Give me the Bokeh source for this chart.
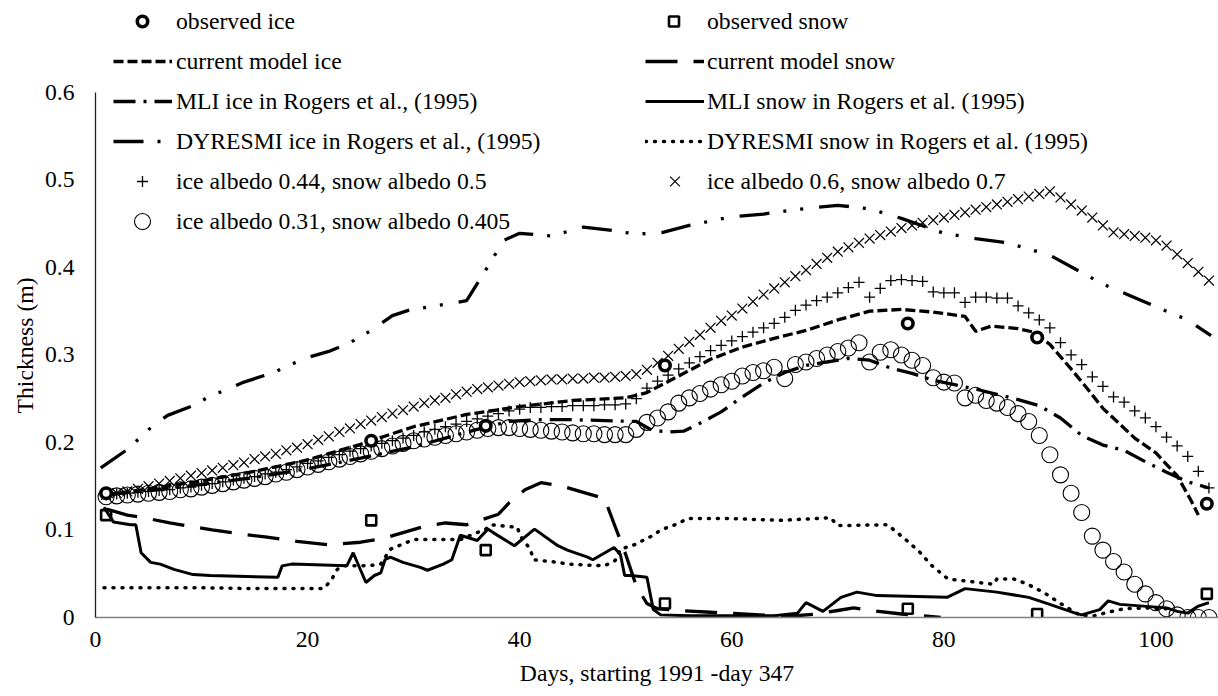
from bokeh.plotting import figure
from bokeh.models import Range1d, FixedTicker, Legend, LegendItem, Title
from bokeh.embed import file_html
from bokeh.resources import INLINE

FONT = "Liberation Serif"
FS = "23.7px"

# ---------------- data ----------------
days = list(range(1, 106))

albedo_060 = [
    .140, .142, .144, .147, .150, .153, .156, .159, .162, .165,
    .168, .171, .174, .177, .181, .184, .187, .191, .194, .198,
    .203, .207, .212, .216, .221, .225, .229, .233, .237, .241,
    .245, .248, .251, .255, .258, .261, .263, .265, .267, .269,
    .270, .271, .272, .272, .273, .273, .274, .274, .275, .276,
    .278, .283, .291, .299, .307, .315, .323, .331, .339, .345,
    .353, .361, .369, .376, .383, .390, .397, .404, .411, .418,
    .423, .428, .433, .437, .441, .445, .448, .451, .454, .457,
    .460, .463, .466, .469, .472, .475, .478, .481, .484, .487,
    .480, .472, .465, .457, .448, .440, .438, .436, .434, .431,
    .425, .415, .405, .395, .385]

albedo_044 = [
    .140, .141, .142, .143, .144, .145, .146, .148, .149, .151,
    .153, .155, .157, .159, .161, .164, .166, .169, .172, .176,
    .179, .183, .186, .190, .193, .196, .199, .202, .205, .208,
    .212, .215, .218, .221, .224, .227, .230, .233, .236, .238,
    .240, .240, .241, .241, .242, .242, .242, .243, .243, .244,
    .250, .262, .270, .277, .284, .291, .298, .305, .311, .316,
    .321, .326, .331, .336, .343, .351, .357, .362, .366, .371,
    .377, .383, .366, .376, .385, .386, .385, .384, .372, .371,
    .371, .360, .366, .366, .365, .365, .356, .348, .340, .331,
    .314, .300, .289, .275, .264, .252, .246, .236, .228, .218,
    .206, .196, .184, .167, .148]

albedo_031 = [
    .138, .139, .140, .141, .142, .143, .144, .146, .147, .149,
    .151, .153, .155, .157, .159, .161, .164, .166, .169, .172,
    .175, .178, .181, .184, .187, .190, .193, .196, .199, .202,
    .204, .206, .208, .210, .212, .214, .216, .217, .217, .216,
    .215, .214, .213, .212, .211, .210, .210, .209, .209, .209,
    .215, .223, .228, .235, .245, .251, .256, .261, .266, .270,
    .276, .280, .282, .286, .273, .289, .292, .296, .300, .304,
    .308, .314, .292, .303, .306, .300, .294, .288, .274, .269,
    .268, .251, .254, .248, .245, .240, .233, .224, .208, .186,
    .163, .142, .120, .093, .077, .064, .052, .038, .027, .017,
    .010, .003, .000, .000, .000]

obs_days = [1, 26, 36.8, 53.7, 76.6, 88.8, 104.8]
obs_ice = [0.142, 0.202, 0.219, 0.288, 0.336, 0.320, 0.130]
obs_snow = [0.117, 0.111, 0.077, 0.016, 0.010, 0.004, 0.027]

cm_ice_days = [1, 5, 10, 15, 20, 25, 30, 35, 40, 45, 50, 52, 55, 58, 61, 64, 67, 70, 73,
               76, 79, 82, 83, 84.5, 87, 88.5, 90, 92, 93.5, 95, 96.5, 98, 100, 102,
               103.3, 104]
cm_ice = [0.140, 0.147, 0.156, 0.167, 0.180, 0.198, 0.218, 0.232, 0.241, 0.248, 0.251,
          0.257, 0.276, 0.295, 0.309, 0.319, 0.328, 0.340, 0.350, 0.352, 0.349, 0.344,
          0.327, 0.333, 0.330, 0.326, 0.312, 0.284, 0.262, 0.239, 0.222, 0.205, 0.188,
          0.162, 0.134, 0.117]

cm_snow_days = [1, 3, 5, 7, 9, 11, 14, 16, 19, 22, 25, 27, 29, 31, 33, 35, 36.5, 38, 39,
                40.5, 42, 44, 46, 48, 49, 50, 51, 52, 53, 55, 58, 61, 64, 66, 68, 70,
                71.5, 73, 76, 78, 79.7]
cm_snow = [0.124, 0.117, 0.113, 0.108, 0.104, 0.100, 0.095, 0.092, 0.087, 0.083, 0.086,
           0.090, 0.097, 0.104, 0.108, 0.106, 0.112, 0.118, 0.131, 0.146, 0.154, 0.150,
           0.143, 0.136, 0.104, 0.072, 0.036, 0.016, 0.010, 0.008, 0.006, 0.004, 0.002,
           0.002, 0.004, 0.008, 0.011, 0.008, 0.004, 0.002, 0.000]

mli_ice_days = [1, 5, 10, 15, 20, 25, 30, 33, 36, 39, 42, 45, 48, 51, 52.5, 54, 55.5, 57,
                59, 61, 63, 65, 67, 69, 71, 73, 75, 77, 79, 81, 83, 85, 87, 89, 91, 93,
                95, 97, 99, 101, 103, 105]
mli_ice = [0.140, 0.145, 0.152, 0.160, 0.170, 0.182, 0.195, 0.205, 0.215, 0.224, 0.226,
           0.226, 0.225, 0.224, 0.214, 0.212, 0.213, 0.222, 0.235, 0.252, 0.268, 0.280,
           0.288, 0.292, 0.296, 0.294, 0.285, 0.279, 0.271, 0.266, 0.261, 0.255, 0.249,
           0.242, 0.228, 0.208, 0.197, 0.191, 0.178, 0.166, 0.155, 0.148]

mli_snow_days = [0.8, 1.7, 3.3, 3.8, 4.3, 5.2, 6.1, 7.4, 9.2, 10.8, 17.2, 17.6, 18.5,
                 23.7, 24.3, 25.5, 26.3, 26.9, 27.3, 27.8, 29, 30.7, 31.3, 32.8, 33.6,
                 34.4, 36, 37, 37.5, 39.5, 41.4, 43.6, 44.5, 46.4, 46.9, 48.9, 49.5,
                 49.9, 50.5, 52, 52.6, 53.3, 56, 60, 64, 66.2, 67, 68.6, 70.3, 71.8,
                 73.7, 80.3, 82, 85, 88, 89.5, 92.4, 93, 94.7, 95.5, 96.6, 101, 102,
                 103, 104, 105]
mli_snow = [0.126, 0.109, 0.106, 0.106, 0.074, 0.063, 0.061, 0.055, 0.049, 0.048, 0.046,
            0.059, 0.061, 0.059, 0.074, 0.040, 0.048, 0.051, 0.066, 0.069, 0.063, 0.057,
            0.054, 0.061, 0.066, 0.094, 0.088, 0.101, 0.097, 0.082, 0.101, 0.082, 0.077,
            0.069, 0.066, 0.080, 0.072, 0.048, 0.048, 0.046, 0.009, 0.003, 0.002, 0.002,
            0.002, 0.005, 0.017, 0.007, 0.023, 0.029, 0.025, 0.023, 0.033, 0.029, 0.023,
            0.017, 0.005, 0.003, 0.009, 0.019, 0.015, 0.011, 0.007, 0.005, 0.013, 0.017]

dy_ice_days = [0.5, 3, 5.4, 6.8, 9.2, 10.8, 12.5, 14, 16.8, 18.2, 20, 22, 24, 26, 28,
               29.5, 33, 35, 37, 38.5, 40, 43, 46, 48.3, 51, 53.5, 56, 60, 63, 66, 70,
               73, 76, 80, 83, 86, 90, 95, 100, 103, 105.2]
dy_ice = [0.171, 0.192, 0.219, 0.231, 0.242, 0.253, 0.261, 0.269, 0.280, 0.288, 0.297,
          0.304, 0.314, 0.328, 0.345, 0.351, 0.358, 0.362, 0.401, 0.431, 0.439, 0.436,
          0.446, 0.443, 0.438, 0.440, 0.448, 0.458, 0.461, 0.466, 0.471, 0.467, 0.456,
          0.439, 0.433, 0.428, 0.414, 0.381, 0.355, 0.340, 0.322]

dy_snow_days = [0.8, 5, 10, 15, 20, 21.5, 22.2, 22.8, 23.4, 24.3, 25.7, 26.9, 27.8, 29.4,
                30, 34.4, 36.8, 37.3, 39.8, 40, 41, 41.3, 43.6, 44.5, 48, 49, 49.5, 50.8,
                52.6, 53.3, 54.9, 55.8, 60, 64.6, 69.3, 70, 74.7, 75.3, 76.5, 77.7, 78.8,
                79.7, 80.4, 84.7, 85, 86.6, 87.9, 89.5, 91, 92.9, 94.2, 95.5, 97, 99, 101]
dy_snow = [0.034, 0.034, 0.034, 0.033, 0.033, 0.033, 0.042, 0.055, 0.059, 0.059, 0.059,
           0.061, 0.078, 0.086, 0.089, 0.089, 0.101, 0.106, 0.103, 0.094, 0.078, 0.066,
           0.063, 0.061, 0.059, 0.065, 0.078, 0.083, 0.094, 0.100, 0.107, 0.113, 0.113,
           0.111, 0.114, 0.105, 0.106, 0.100, 0.088, 0.075, 0.060, 0.051, 0.044, 0.038,
           0.044, 0.044, 0.038, 0.028, 0.016, 0.002, 0.002, 0.006, 0.010, 0.011, 0.010]

x_ticks = [0, 20, 40, 60, 80, 100]
y_ticks = [0, 0.1, 0.2, 0.3, 0.4, 0.5, 0.6]
x_title = "Days, starting 1991 -day 347"
y_title = "Thickness (m)"

labels_left = ["observed ice", "current model ice", "MLI ice in Rogers et al., (1995)",
               "DYRESMI ice in Rogers et al., (1995)", "ice albedo 0.44, snow albedo 0.5",
               "ice albedo 0.31, snow albedo 0.405"]
labels_right = ["observed snow", "current model snow", "MLI snow in Rogers et al. (1995)",
                "DYRESMI snow in Rogers et al. (1995)", "ice albedo 0.6, snow albedo 0.7"]

# ---------------- figure ----------------
p = figure(width=1218, height=696, output_backend="svg", toolbar_location=None,
           x_range=Range1d(0, 105.9), y_range=Range1d(0, 0.705),
           min_border_left=95, min_border_right=0, min_border_top=0, min_border_bottom=79)
p.outline_line_color = None
p.grid.visible = False
p.background_fill_color = "white"
p.border_fill_color = "white"

xa = p.xaxis[0]
xa.ticker = FixedTicker(ticks=x_ticks)
xa.axis_label = x_title
xa.axis_line_color = "#808080"
xa.axis_line_width = 1.5
ya = p.yaxis[0]
ya.ticker = FixedTicker(ticks=y_ticks)
ya.bounds = (0, 0.6)
ya.axis_line_color = "#202020"
ya.axis_line_width = 1.3
ya.major_label_overrides = {0: "0"}
for ax in (xa, ya):
    ax.major_tick_line_color = None
    ax.minor_tick_line_color = None
    ax.major_tick_out = 0
    ax.major_tick_in = 0
    ax.minor_tick_out = 0
    ax.minor_tick_in = 0
    ax.major_label_text_font = FONT
    ax.major_label_text_font_size = FS
    ax.major_label_text_color = "#000000"
    ax.axis_label_text_font = FONT
    ax.axis_label_text_font_size = FS
    ax.axis_label_text_font_style = "normal"
    ax.axis_label_text_color = "#000000"
xa.major_label_standoff = 14
xa.axis_label_standoff = 10
ya.major_label_standoff = 21

ytitle = Title(text=y_title, align="left", offset=204, text_font=FONT,
               text_font_size=FS, text_font_style="normal", text_color="#000000",
               text_alpha=1.0, standoff=8)
p.add_layout(ytitle, "left")

K = "#000000"
r_dy_snow = p.line(dy_snow_days, dy_snow, line_color=K, line_width=3.5,
                   line_dash="1 8", line_cap="round")
r_mli_snow = p.line(mli_snow_days, mli_snow, line_color=K, line_width=3)
r_cm_snow = p.line(cm_snow_days, cm_snow, line_color=K, line_width=3.3, line_dash="32 16")
r_dy_ice = p.line(dy_ice_days, dy_ice, line_color=K, line_width=3.3,
                  line_dash="30 14 3 14 3 16")
r_mli_ice = p.line(mli_ice_days, mli_ice, line_color=K, line_width=3.3, line_dash="22 8 3 8")
r_cm_ice = p.line(cm_ice_days, cm_ice, line_color=K, line_width=3.3, line_dash="10 4")

r_060 = p.scatter(days, albedo_060, marker="x", size=14, line_color=K, line_width=1.2)
r_044 = p.scatter(days, albedo_044, marker="cross", size=11, line_color=K, line_width=1.3)
r_031 = p.scatter(days, albedo_031, marker="circle", size=16, fill_color=None,
                  line_color=K, line_width=1.1)
r_osnow = p.scatter(obs_days, obs_snow, marker="square", size=10, fill_color=None,
                    line_color=K, line_width=2.6)
r_oice = p.scatter(obs_days, obs_ice, marker="circle", size=10.5, fill_color="white",
                   line_color=K, line_width=3.6)

FRAME_LEFT = 95
FRAME_BOTTOM = 617
ROW_TOP0 = 1
ROW_H = 40


def add_legend(items, first_row, glyph_w, left_px, text_px):
    n = len(items)
    bottom = ROW_TOP0 + ROW_H * (first_row + n)
    lg = Legend(items=items, location=(left_px - FRAME_LEFT, FRAME_BOTTOM - bottom),
                orientation="vertical", glyph_width=glyph_w, glyph_height=ROW_H,
                label_height=ROW_H, spacing=0, padding=0, margin=0,
                label_standoff=text_px - (left_px + glyph_w),
                border_line_color=None, background_fill_alpha=0,
                label_text_font=FONT, label_text_font_size=FS, label_text_color="#000000")
    p.add_layout(lg)


L = labels_left
R = labels_right
add_legend([LegendItem(label=L[0], renderers=[r_oice])], 0, 26, 129, 176)
add_legend([LegendItem(label=L[1], renderers=[r_cm_ice]),
            LegendItem(label=L[2], renderers=[r_mli_ice]),
            LegendItem(label=L[3], renderers=[r_dy_ice])], 1, 59, 113, 176)
add_legend([LegendItem(label=L[4], renderers=[r_044])], 4, 28, 128, 176)
add_legend([LegendItem(label=L[5], renderers=[r_031])], 5, 40, 122, 176)

add_legend([LegendItem(label=R[0], renderers=[r_osnow])], 0, 25, 661, 707)
add_legend([LegendItem(label=R[1], renderers=[r_cm_snow]),
            LegendItem(label=R[2], renderers=[r_mli_snow]),
            LegendItem(label=R[3], renderers=[r_dy_snow])], 1, 59, 645, 707)
add_legend([LegendItem(label=R[4], renderers=[r_060])], 4, 35, 657, 707)

open("out.html", "w").write(file_html(p, INLINE))
